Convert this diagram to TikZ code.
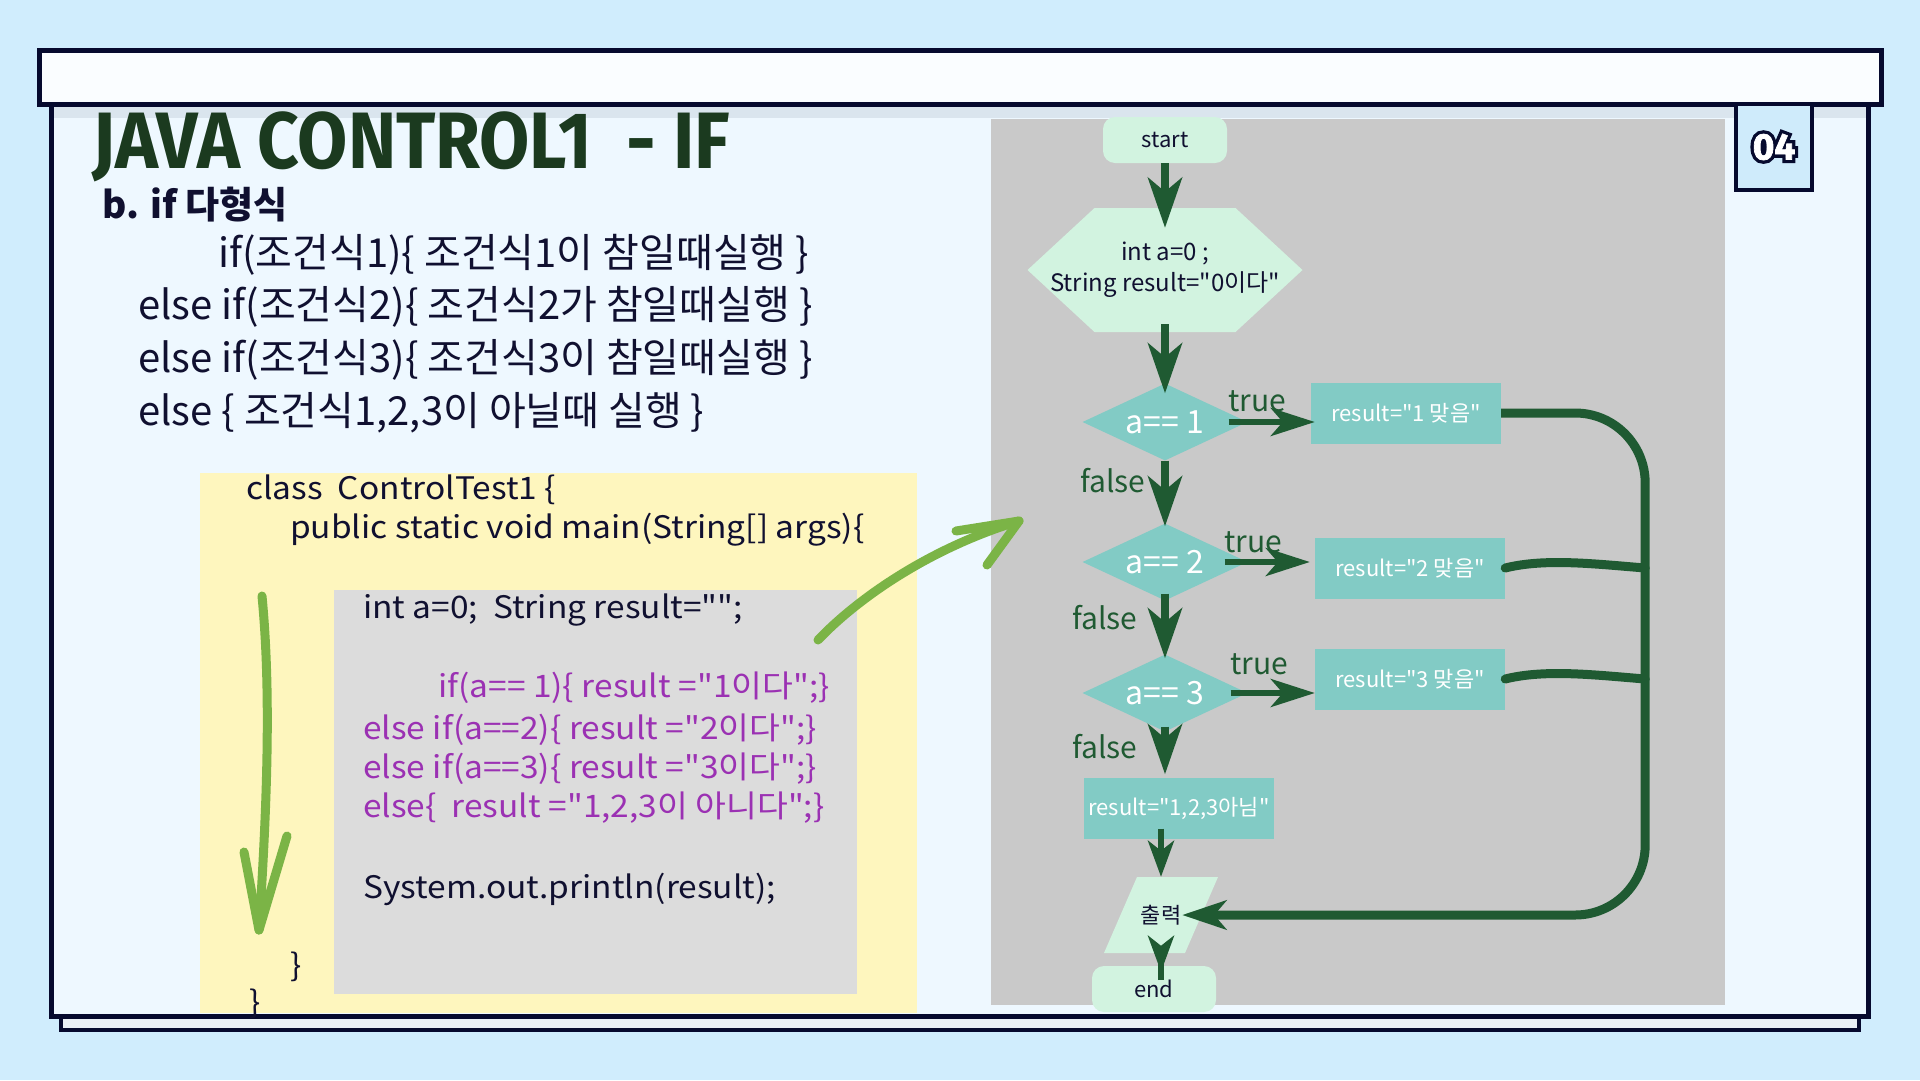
\documentclass[tikz,border=0pt]{standalone}
\usepackage{fontspec}
\setmainfont{Noto Sans CJK KR}
\newfontfamily\krfont{Noto Sans CJK KR}
\newfontfamily\codefont[FakeStretch=1.08]{Noto Sans CJK KR}
\newfontfamily\titlefont[FakeStretch=0.91]{Fira Sans}
\newfontfamily\badgefont[FakeBold=2]{Fira Sans}
\newfontfamily\badgeedge[FakeBold=20]{Fira Sans}
\usetikzlibrary{shapes.geometric,arrows.meta,positioning}

\definecolor{bgblue}{HTML}{D0EDFD}
\definecolor{panelfill}{HTML}{EEF8FF}
\definecolor{bandgray}{HTML}{DAE5EE}
\definecolor{navy}{HTML}{060A2E}
\definecolor{titlegreen}{HTML}{1B3A1F}
\definecolor{inkblue}{HTML}{101030}
\definecolor{codeyellow}{HTML}{FEF6BE}
\definecolor{codegray}{HTML}{DCDCDC}
\definecolor{flowgray}{HTML}{C9C9C9}
\definecolor{mint}{HTML}{D2F3E0}
\definecolor{flowteal}{HTML}{82CBC5}
\definecolor{darkgreen}{HTML}{1F5A32}
\definecolor{handgreen}{HTML}{7BB446}
\definecolor{codepurple}{HTML}{9B31B3}
\definecolor{badgeblue}{HTML}{CFEBFB}

\tikzset{
  txt/.style={anchor=west, inner sep=0pt, text=inkblue, font=\krfont\fontsize{40}{46}\selectfont},
  codeline/.style={anchor=west, inner sep=0pt, text=inkblue, font=\codefont\fontsize{31}{38}\selectfont},
  ifline/.style={codeline, text=codepurple},
  terminal/.style={rectangle, rounded corners=12pt, fill=mint, minimum width=124pt,
    minimum height=46pt, text=inkblue, font=\krfont\fontsize{22}{26}\selectfont},
  decision/.style={diamond, aspect=2, fill=flowteal, minimum width=165pt, minimum height=77pt,
    inner sep=0pt, text=white, font=\krfont\fontsize{32}{36}\selectfont},
  process/.style={rectangle, fill=flowteal, minimum width=190pt, minimum height=61pt,
    inner sep=0pt, text=white, font=\krfont\fontsize{22}{26}\selectfont},
  hexbox/.style={rectangle, fill=flowgray, minimum width=275pt, minimum height=124pt, inner sep=0pt,
    align=center, text=inkblue, font=\krfont\fontsize{24}{31}\selectfont,
    path picture={\fill[mint] (path picture bounding box.west)
      -- ([xshift=67pt]path picture bounding box.north west)
      -- ([xshift=-67pt]path picture bounding box.north east)
      -- (path picture bounding box.east)
      -- ([xshift=-67pt]path picture bounding box.south east)
      -- ([xshift=67pt]path picture bounding box.south west) -- cycle;}},
  iobox/.style={rectangle, fill=flowgray, minimum width=114pt, minimum height=76pt, inner sep=0pt,
    text=inkblue, font=\krfont\fontsize{22}{26}\selectfont,
    path picture={\fill[mint] ([xshift=33pt]path picture bounding box.north west)
      -- (path picture bounding box.north east)
      -- ([xshift=-33pt]path picture bounding box.south east)
      -- (path picture bounding box.south west) -- cycle;}},
  flowlabel/.style={text=darkgreen, inner sep=0pt, font=\krfont\fontsize{30}{34}\selectfont},
  flowarrow/.style={draw=darkgreen, line width=8pt, -{Stealth[length=50pt,width=34pt,inset=14pt]}},
  sidearrow/.style={draw=darkgreen, line width=6pt, -{Stealth[length=44pt,width=28pt,inset=12pt]}},
  smallarrow/.style={draw=darkgreen, line width=6pt, -{Stealth[length=36pt,width=26pt,inset=10pt]}},
  loopline/.style={draw=darkgreen, line width=9pt, rounded corners=70pt},
  handarrow/.style={draw=handgreen, line width=9pt, line cap=round, line join=round},
  badgetxt/.style={inner sep=0pt, font=\badgefont\bfseries\fontsize{37}{40}\selectfont}
}

\begin{document}
\begin{tikzpicture}[x=1pt, y=-1pt]
\useasboundingbox (0,0) rectangle (1920,1080);
\fill[bgblue] (0,0) rectangle (1920,1080);

% frame of the slide
\filldraw[fill=bandgray!60, draw=navy, line width=4pt] (61,1010) rectangle (1859,1030);
\filldraw[fill=panelfill, draw=navy, line width=5pt] (51,100) rectangle (1868,1016);
\fill[bandgray] (53.5,104) rectangle (1865.5,118);
\filldraw[fill=white!70!panelfill, draw=navy, line width=5pt] (39,50) rectangle (1881,104);

% page number
\node[draw=navy, line width=4pt, fill=badgeblue, minimum width=76pt, minimum height=86pt,
  inner sep=0pt] (badge) at (1774,147) {};
\node[badgetxt, text=navy, font=\badgeedge\bfseries\fontsize{37}{40}\selectfont] (badgeo) at (badge.center) {04};
\node[badgetxt, text=white] (badgenum) at (badge.center) {04};

% heading
\node[anchor=base west, inner sep=0pt, text=titlegreen,
  font=\titlefont\bfseries\fontsize{80}{90}\selectfont] (title) at (92,168) {JAVA CONTROL1\ \ - IF};
\node[txt, font=\krfont\bfseries\fontsize{37}{42}\selectfont] (subtitle) at (102,205) {b. if 다형식};
\node[txt] (rule1) at (218,255) {if(조건식1)\{ 조건식1이 참일때실행 \}};
\node[txt] (rule2) at (138,307) {else if(조건식2)\{ 조건식2가 참일때실행 \}};
\node[txt] (rule3) at (138,360) {else if(조건식3)\{ 조건식3이 참일때실행 \}};
\node[txt] (rule4) at (138,413) {else \{ 조건식1,2,3이 아닐때 실행 \}};

% code
\fill[codeyellow] (200,473) rectangle (917,1013);
\fill[codegray] (334,590) rectangle (857,994);
\node[codeline] (cls) at (246,490) {class\ \ ControlTest1 \{};
\node[codeline] (mainm) at (290,530) {public static void main(String[] args)\{};
\node[codeline] (decl) at (363,610) {int a=0;\ \ String result="";};
\node[ifline] (if1) at (438,688) {if(a== 1)\{ result ="1이다";\}};
\node[ifline] (if2) at (363,730) {else if(a==2)\{ result ="2이다";\}};
\node[ifline] (if3) at (363,769) {else if(a==3)\{ result ="3이다";\}};
\node[ifline] (if4) at (363,808) {else\{\ \ result ="1,2,3이 아니다";\}};
\node[codeline] (prt) at (363,889) {System.out.println(result);};
\node[codeline] (close1) at (290,967) {\}};
\node[codeline] (close2) at (249,1004) {\}};

% flowchart
\fill[flowgray] (991,119) rectangle (1725,1005);
\node[terminal] (start) at (1165,140) {start};
\node[hexbox, below of=start, node distance=130pt] (init) {int a=0 ;\\String result="0이다"};
\node[decision, below of=init, node distance=152pt] (a1) {a== 1};
\node[decision, below of=a1, node distance=140pt] (a2) {a== 2};
\node[decision, below of=a2, node distance=131pt] (a3) {a== 3};
\node[process, below of=a3, node distance=115pt, xshift=14pt] (rnone) {result="1,2,3아님"};
\node[iobox, below of=rnone, node distance=107pt, xshift=-18pt] (out) {출력};
\node[terminal, below of=out, node distance=74pt, xshift=-7pt] (stop) {end};
\node[process, right of=a1, node distance=241pt, yshift=9pt] (r1) {result="1 맞음"};
\node[process, right of=a2, node distance=245pt, yshift=-6pt] (r2) {result="2 맞음"};
\node[process, right of=a3, node distance=245pt, yshift=14pt] (r3) {result="3 맞음"};

\node[flowlabel] (t1) at (1257,401) {true};
\node[flowlabel] (t2) at (1253,542) {true};
\node[flowlabel] (t3) at (1259,664) {true};
\node[flowlabel] (f1) at (1113,481) {false};
\node[flowlabel] (f2) at (1105,618) {false};
\node[flowlabel] (f3) at (1105,747) {false};

\draw[flowarrow, shorten >=-20pt] (start) -- (init);
\draw[flowarrow, shorten <=-8pt, shorten >=-10pt] (init) -- (a1);
\draw[flowarrow, shorten >=-3pt] (a1) -- (a2);
\draw[flowarrow, shorten <=-7pt, shorten >=-4pt] (a2) -- (a3);
\draw[flowarrow, shorten <=-5pt, shorten >=3pt] (a3.south) -- (a3.south |- rnone.north);
\draw[smallarrow, shorten <=-10pt] (out |- rnone.south) -- (out.north);
\draw[smallarrow, shorten <=-27pt, shorten >=-6pt] (out.south) -- (out.south |- stop.north);
\draw[sidearrow, shorten <=-19pt, shorten >=-4pt] (a1.east) -- (a1.east -| r1.west);
\draw[sidearrow, shorten <=-23pt, shorten >=5pt] (a2.east) -- (a2.east -| r2.west);
\draw[sidearrow, shorten <=-17pt] (a3.east) -- (a3.east -| r3.west);

\coordinate[right=144pt of r1.east] (loopR);
\coordinate (j2) at (loopR |- r2.east);
\coordinate (j3) at (loopR |- r3.east);
\draw[loopline, -{Stealth[length=44pt,width=29pt,inset=12pt]}, shorten >=-36pt]
  (r1.east) -- (loopR) |- (out);
\draw[loopline, line cap=round] (r2.east) .. controls +(40,-10) and +(-50,-4) .. (j2);
\draw[loopline, line cap=round] (r3.east) .. controls +(40,-10) and +(-50,-4) .. (j3);

% hand drawn arrows
\coordinate (hv1) at (262,596);
\coordinate (hv2) at (259,930);
\draw[handarrow] (hv1) .. controls (272,700) and (266,820) .. (hv2);
\draw[handarrow] (244,852) -- (hv2) -- (287,836);
\coordinate (hd1) at (818,640);
\coordinate (hd2) at (1019,521);
\draw[handarrow] (hd1) .. controls (858,598) and (930,548) .. (hd2);
\draw[handarrow] (956,531) -- (hd2) -- (987,565);
\end{tikzpicture}
\end{document}
